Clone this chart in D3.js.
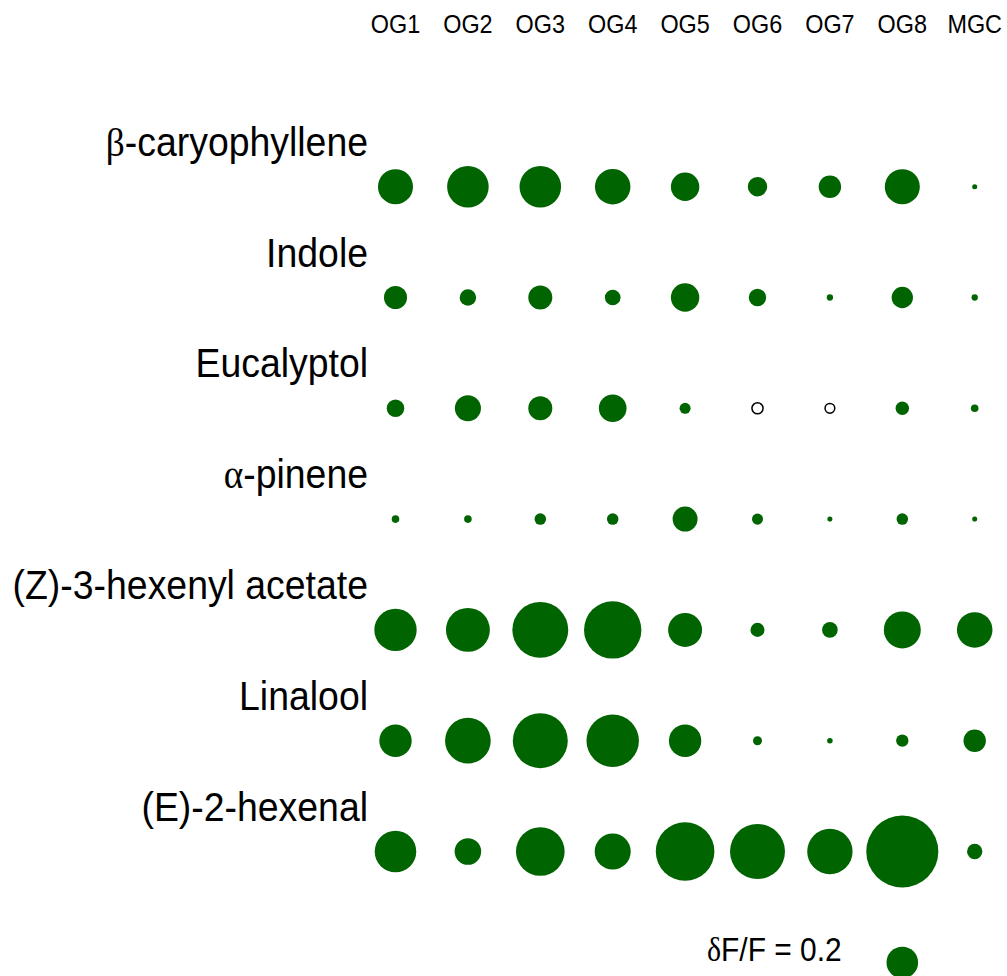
<!DOCTYPE html>
<html>
<head>
<meta charset="utf-8">
<script src="https://cdn.jsdelivr.net/npm/d3@7"></script>
<style>
  html, body { margin: 0; padding: 0; background: #fff; }
  svg { display: block; }
  text { font-family: "Liberation Sans", Arial, sans-serif; fill: #000; }
  .greek { font-family: "Liberation Serif", "DejaVu Serif", serif; }
</style>
</head>
<body>
<svg id="chart" width="1007" height="976"></svg>
<script>
// Column groups (glomeruli) and odorants
const groups = ["OG1", "OG2", "OG3", "OG4", "OG5", "OG6", "OG7", "OG8", "MGC"];
const odorants = ["β-caryophyllene", "Indole", "Eucalyptol", "α-pinene",
                  "(Z)-3-hexenyl acetate", "Linalool", "(E)-2-hexenal"];

// Response amplitudes (δF/F), one array per odorant, in group order.
// Negative values are drawn as open circles.
const caryophyllene = [0.222, 0.263, 0.263, 0.225, 0.180, 0.123, 0.142, 0.222, 0.032];
const indole        = [0.146, 0.104, 0.152, 0.099, 0.180, 0.110, 0.040, 0.135, 0.040];
const eucalyptol    = [0.111, 0.165, 0.152, 0.175, 0.070, -0.080, -0.071, 0.085, 0.048];
const pinene        = [0.048, 0.048, 0.073, 0.073, 0.158, 0.070, 0.032, 0.073, 0.032];
const hexenylAcet   = [0.268, 0.278, 0.354, 0.363, 0.215, 0.089, 0.099, 0.234, 0.225];
const linalool      = [0.205, 0.289, 0.348, 0.332, 0.205, 0.057, 0.035, 0.078, 0.142];
const hexenal       = [0.263, 0.168, 0.308, 0.228, 0.371, 0.348, 0.287, 0.456, 0.097];

const seriesValues = [caryophyllene, indole, eucalyptol, pinene, hexenylAcet, linalool, hexenal];

// Scale reference shown in the legend
const legendValue = 0.2;
const legendLabel = "δF/F = 0.2";

const svg = d3.select("#chart");
const green = "#006400";

const x = d3.scalePoint().domain(groups).range([395.5, 974.7]);
const y = d3.scalePoint().domain(odorants).range([186.7, 851.5]);
const r = d3.scaleLinear().domain([0, legendValue]).range([0, 15.8]);

// Writes a label into a text node, setting Greek letters in a serif face
function fillLabel(sel, str) {
  const parts = str.match(/[α-ωΑ-Ω]+|[^α-ωΑ-Ω]+/g) || [];
  parts.forEach(p => {
    const t = sel.append("tspan").text(p);
    if (/[α-ωΑ-Ω]/.test(p)) t.attr("class", "greek");
  });
}

// Column headers
svg.append("g").selectAll("text")
  .data(groups)
  .join("text")
  .attr("transform", d => `translate(${x(d)},33) scale(0.9,1)`)
  .attr("text-anchor", "middle")
  .style("font-size", "26px")
  .text(d => d);

// Odorant labels, right-aligned above each row
svg.append("g").selectAll("text")
  .data(odorants)
  .join("text")
  .attr("transform", d => `translate(368,${y(d) - 31}) scale(0.935,1)`)
  .attr("text-anchor", "end")
  .style("font-size", "40px")
  .each(function (d) { fillLabel(d3.select(this), d); });

// Bubbles
const cells = [];
odorants.forEach((o, i) => {
  groups.forEach((g, j) => cells.push({ odorant: o, group: g, value: seriesValues[i][j] }));
});

svg.append("g").selectAll("circle")
  .data(cells)
  .join("circle")
  .attr("cx", d => x(d.group))
  .attr("cy", d => y(d.odorant))
  .attr("r", d => d.value < 0 ? r(-d.value) - 0.75 : r(d.value))
  .attr("fill", d => d.value < 0 ? "#fff" : green)
  .attr("stroke", d => d.value < 0 ? "#000" : "none")
  .attr("stroke-width", 1.5);

// Size legend
const legend = svg.append("g");
legend.append("text")
  .attr("transform", "translate(707,961) scale(0.88,1)")
  .style("font-size", "34px")
  .call(t => fillLabel(t, legendLabel));
legend.append("circle")
  .attr("cx", x("OG8"))
  .attr("cy", 962.5)
  .attr("r", r(legendValue))
  .attr("fill", green);
</script>
</body>
</html>
